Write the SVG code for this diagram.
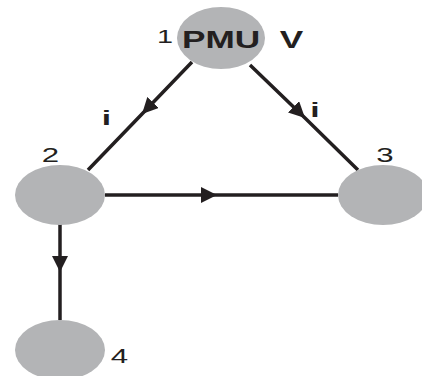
<svg xmlns="http://www.w3.org/2000/svg" width="422" height="376" viewBox="0 0 422 376">
<defs>
<marker id="arr" markerUnits="userSpaceOnUse" markerWidth="16" markerHeight="16" refX="16" refY="8" orient="auto">
<path d="M0,0 L16,8 L0,16 z" fill="#231f20"/>
</marker>
<style>
.node{fill:#b3b4b6;stroke:none}
.edge{fill:none;stroke:#231f20;stroke-width:3.5;marker-mid:url(#arr)}
.lbl{font-family:"Liberation Sans",Arial,sans-serif;fill:#231f20;text-anchor:middle}
.b{font-weight:bold;font-size:23px}
.n{font-size:19.5px}
</style>
</defs>
<rect width="422" height="376" fill="#ffffff"/>
<g id="connectors">
<polyline class="edge" points="192,62 142,114 88,170"/>
<polyline class="edge" points="250,65 305,118 358,170"/>
<polyline class="edge" points="105,195 217,195 338,195"/>
<polyline class="edge" points="60,224 60,272 60,320"/>
</g>
<g id="node1">
<ellipse class="node" cx="221" cy="38" rx="44" ry="31"/>
<text class="lbl" style="font-size:18px" transform="translate(165,43) scale(1.6,1)">1</text>
<text class="lbl b" transform="translate(221,48) scale(1.53,1)">PMU</text>
<text class="lbl b" transform="translate(291.5,48) scale(1.53,1)">V</text>
</g>
<g id="node2">
<ellipse class="node" cx="60" cy="195" rx="45" ry="30"/>
<text class="lbl n" transform="translate(50.5,162) scale(1.6,1)">2</text>
</g>
<g id="node3">
<ellipse class="node" cx="383" cy="195" rx="45" ry="30"/>
<text class="lbl n" transform="translate(385,162) scale(1.6,1)">3</text>
</g>
<g id="node4">
<ellipse class="node" cx="60" cy="350" rx="45" ry="30"/>
<text class="lbl n" transform="translate(119.5,363) scale(1.6,1)">4</text>
</g>
<g id="edge-labels">
<text class="lbl" style="font-weight:bold;font-size:21px" transform="translate(106.5,125) scale(1.6,1)">i</text>
<text class="lbl" style="font-weight:bold;font-size:21px" transform="translate(315,117) scale(1.6,1)">i</text>
</g>
</svg>
